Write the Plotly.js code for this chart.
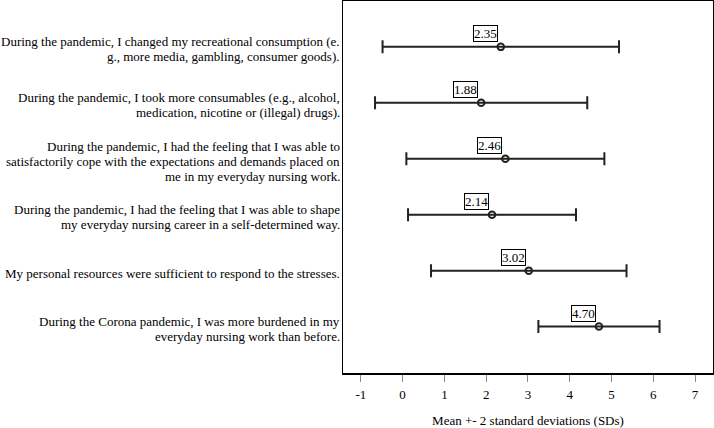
<!DOCTYPE html>
<html>
<head>
<meta charset="utf-8">
<script src="https://cdn.plot.ly/plotly-3.0.1.min.js"></script>
<style>html,body{margin:0;padding:0;background:#fff;}#chart{width:714px;height:428px;}</style>
</head>
<body>
<div id="chart"></div>
<script>
const items = [
  ["During the pandemic, I changed my recreational consumption (e.", "g., more media, gambling, consumer goods)."],
  ["During the pandemic, I took more consumables (e.g., alcohol,", "medication, nicotine or (illegal) drugs)."],
  ["During the pandemic, I had the feeling that I was able to", "satisfactorily cope with the expectations and demands placed on", "me in my everyday nursing work."],
  ["During the pandemic, I had the feeling that I was able to shape", "my everyday nursing career in a self-determined way."],
  ["My personal resources were sufficient to respond to the stresses."],
  ["During the Corona pandemic, I was more burdened in my", "everyday nursing work than before."]
];
const means = [2.35, 1.88, 2.46, 2.14, 3.02, 4.70];
const twoSD = [2.83, 2.54, 2.37, 2.01, 2.34, 1.45];
const meanLabels = ["2.35", "1.88", "2.46", "2.14", "3.02", "4.70"];
const xTicks = [-1, 0, 1, 2, 3, 4, 5, 6, 7];

const rows = items.map((_, i) => i);
const font = "'Liberation Serif', 'Times New Roman', Times, serif";

const trace = {
  type: "scatter",
  mode: "markers",
  x: means,
  y: rows,
  marker: {symbol: "circle-open", size: 6.5, color: "#222", line: {width: 2, color: "#222"}},
  error_x: {type: "data", array: twoSD, symmetric: true, color: "#222", thickness: 2, width: 6.5},
  hoverinfo: "skip",
  showlegend: false
};

const annotations = means.map((m, i) => ({
  x: m, y: rows[i], xref: "x", yref: "y",
  text: meanLabels[i], showarrow: false,
  xanchor: "right", yanchor: "bottom", xshift: -3, yshift: 5,
  font: {family: font, size: 13, color: "#000"},
  bordercolor: "#000", borderwidth: 1, borderpad: 0, bgcolor: "#fff"
}));

const lineGap = 15;
items.forEach((lines, i) => {
  const n = lines.length;
  lines.forEach((ln, k) => {
    annotations.push({
      x: 0, xref: "paper", y: rows[i], yref: "y",
      text: ln, showarrow: false,
      xanchor: "right", yanchor: "middle",
      xshift: -1, yshift: -((k - (n - 1) / 2) * lineGap) - 2.5,
      font: {family: font, size: 13, color: "#000"}
    });
  });
});

const layout = {
  width: 714, height: 428,
  margin: {l: 343, r: 1, t: 1, b: 55},
  paper_bgcolor: "#fff", plot_bgcolor: "#fff",
  font: {family: font, size: 13, color: "#000"},
  xaxis: {
    range: [-1.427, 7.43], tickvals: xTicks, ticktext: xTicks.map(String),
    ticks: "outside", ticklen: 7, tickwidth: 1, tickcolor: "#888",
    showgrid: false, zeroline: false,
    showline: true, mirror: true, linecolor: "#000", linewidth: 1.5,
    tickfont: {family: font, size: 13}, ticklabelstandoff: 2,
    title: {text: "Mean +- 2 standard deviations (SDs)", font: {family: font, size: 13}, standoff: 18}
  },
  yaxis: {
    range: [5.83, -0.82], tickvals: rows, showticklabels: false,
    ticks: "", showgrid: false, zeroline: false,
    showline: true, mirror: true, linecolor: "#000", linewidth: 1.5
  },
  annotations: annotations
};

Plotly.newPlot("chart", [trace], layout, {displayModeBar: false, staticPlot: true});
</script>
</body>
</html>
